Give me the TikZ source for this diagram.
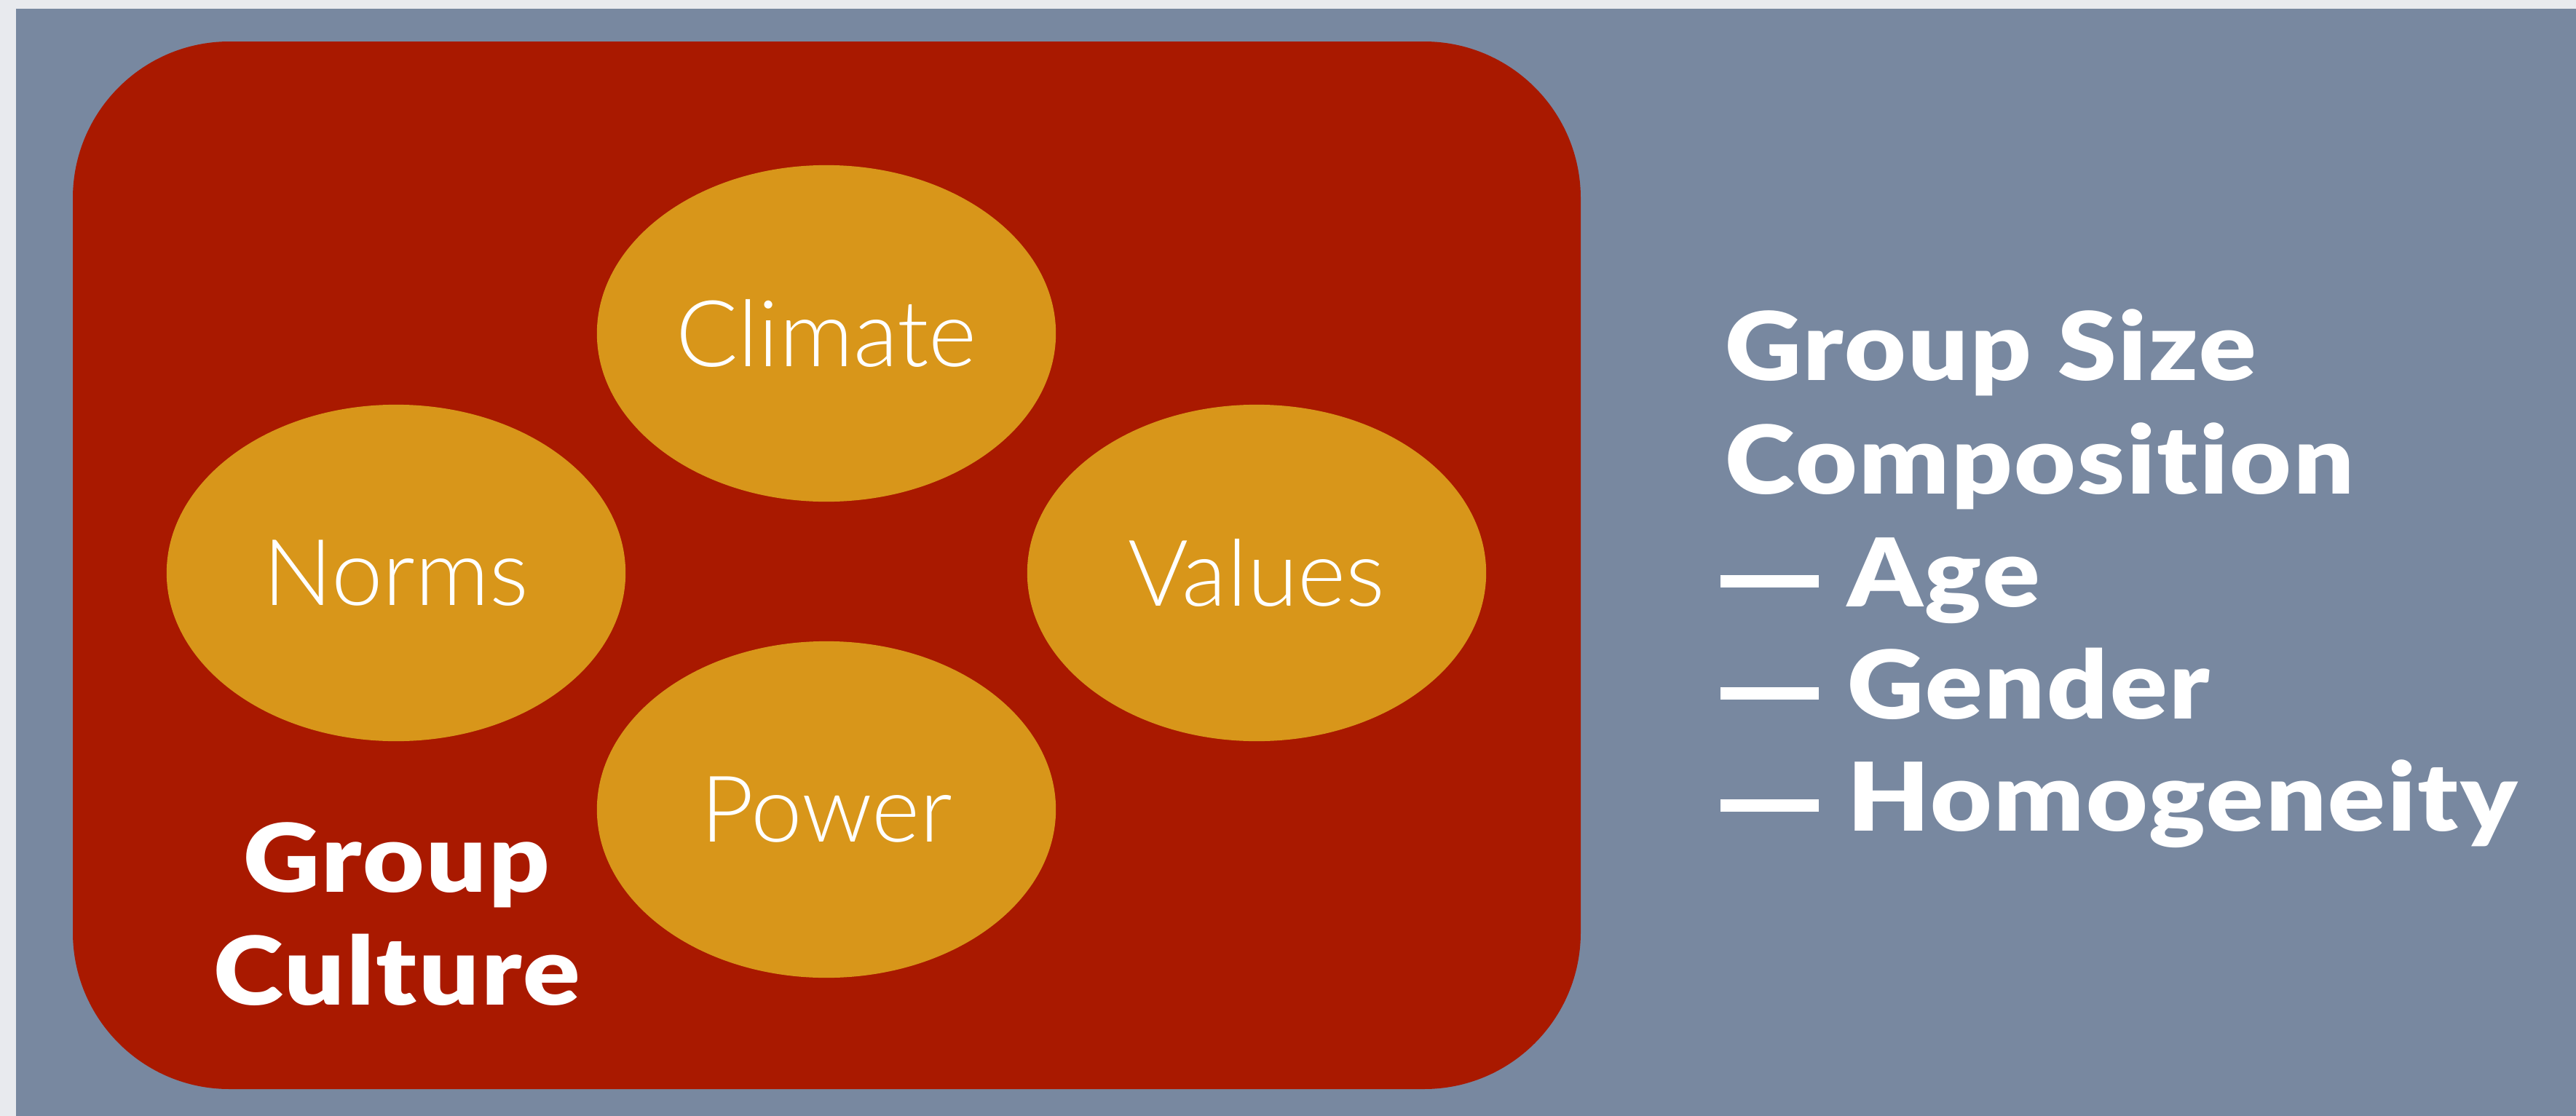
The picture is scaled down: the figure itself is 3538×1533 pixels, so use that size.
\documentclass[tikz,border=0pt]{standalone}
\usepackage{fontspec}
\usetikzlibrary{shapes.geometric}
\newfontfamily\lightfont{Lato Light}
\newfontfamily\heavyfont{Lato Black}[FakeStretch=1.12, LetterSpace=2, Ligatures=NoCommon]
\definecolor{pagebg}{HTML}{E8EAEE}
\definecolor{slatebg}{HTML}{7888A0}
\definecolor{cultred}{HTML}{A91900}
\definecolor{blobgold}{HTML}{D8961A}
\newcommand{\listdash}{\rule[7.4pt]{38.4pt}{4.8pt}\hspace{11.4pt}}
\begin{document}
\begin{tikzpicture}[x=0.01cm,y=-0.01cm,
  blob/.style={ellipse, fill=blobgold, inner sep=0pt,
    minimum width=6.3cm, minimum height=4.62cm,
    text=white, font=\lightfont\fontsize{36}{40}\selectfont},
  boldlabel/.style={text=white, inner sep=0pt,
    font=\heavyfont\fontsize{37}{43.5}\selectfont},
  listline/.style={boldlabel, anchor=base west}
]
\useasboundingbox (0,0) rectangle (3538,1533);
\fill[pagebg] (0,0) rectangle (3538,1533);
\fill[slatebg] (22,12) rectangle (3538,1533);
\fill[cultred, rounded corners=2.15cm] (100,57) rectangle (2171,1496);

\node[blob] (climate) at (1135,458) {Climate};
\node[blob] (norms) at (544,787) {Norms};
\node[blob] (values) at (1726,787) {Values};
\node[blob] (power) at (1135,1112) {Power};

\node[boldlabel, anchor=base] (grp) at (545,1225) {Group};
\node[boldlabel, anchor=base] (cult) at (545,1380) {Culture};

\node[listline] (size) at (2369,522) {Group Size};
\node[listline] (comp) at (2369,678) {Composition};
\node[listline] (age) at (2362,833) {\listdash Age};
\node[listline] (gender) at (2362,987) {\listdash Gender};
\node[listline] (homog) at (2362,1141) {\listdash Homogeneity};
\end{tikzpicture}
\end{document}
